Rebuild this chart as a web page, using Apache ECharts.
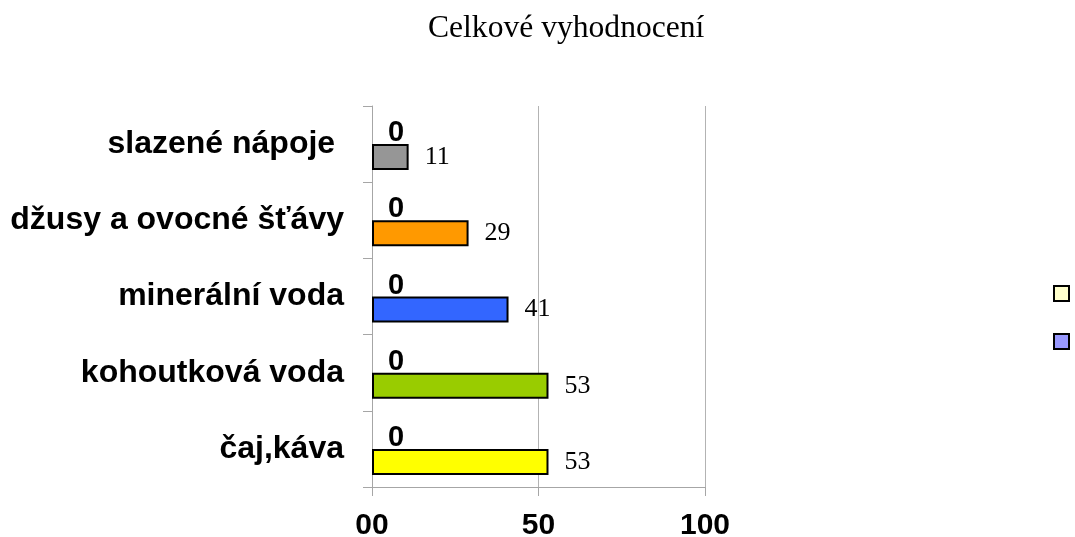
<!DOCTYPE html>
<html>
<head>
    <meta charset="utf8">
    <title>Celkové vyhodnocení</title>
    <script src="https://cdn.jsdelivr.net/npm/echarts@6/dist/echarts.min.js"></script>
</head>
<body style="margin:0">
    <div id="main" style="width: 1075px;height:537px;"></div>
    <script type="text/javascript">
    // data
    var categories = ['čaj,káva', 'kohoutková voda', 'minerální voda', 'džusy a ovocné šťávy', 'slazené nápoje '];
    var values = [53, 53, 41, 29, 11];
    var zeros = [0, 0, 0, 0, 0];
    var barColors = ['#ffff00', '#99cc00', '#3366ff', '#ff9900', '#969696'];
    var tickLabels = {0: '00', 50: '50', 100: '100'};

    var myChart = echarts.init(document.getElementById('main'));

    var sans = 'Liberation Sans, Arial, sans-serif';
    var serif = 'Liberation Serif, Times New Roman, serif';

    var option = {
        animation: false,
        backgroundColor: '#fff',
        title: {
            text: 'Celkové vyhodnocení',
            left: 423,
            top: 8,
            textStyle: { fontFamily: serif, fontWeight: 'normal', fontSize: 31.6, color: '#000' }
        },
        legend: {
            orient: 'vertical',
            left: 1048,
            top: 280,
            itemWidth: 15,
            itemHeight: 15,
            itemGap: 31,
            icon: 'rect',
            itemStyle: { borderColor: '#000', borderWidth: 2 },
            data: ['Řada 2', 'Řada 1'],
            formatter: function () { return ''; }
        },
        grid: { left: 372, right: 370, top: 106, bottom: 50, outerBoundsMode: 'none' },
        xAxis: {
            type: 'value',
            min: 0,
            max: 100,
            interval: 50,
            axisLine: { show: true, lineStyle: { color: '#a6a6a6', width: 1 } },
            axisTick: { show: true, length: 9, lineStyle: { color: '#a6a6a6' } },
            splitLine: { show: true, lineStyle: { color: '#b3b3b3' } },
            axisLabel: {
                margin: 24,
                fontFamily: sans, fontWeight: 'bold', fontSize: 30, color: '#000',
                formatter: function (v) { return tickLabels[v]; }
            }
        },
        yAxis: {
            type: 'category',
            data: categories,
            axisLine: { show: true, lineStyle: { color: '#a6a6a6' } },
            axisTick: { show: true, length: 9, lineStyle: { color: '#a6a6a6' } },
            axisLabel: { margin: 28, fontFamily: sans, fontWeight: 'bold', fontSize: 32, color: '#000' }
        },
        series: [
            {
                name: 'Řada 1',
                type: 'bar',
                data: zeros,
                barWidth: 26,
                barGap: 0,
                itemStyle: { color: '#9999ff', borderWidth: 0 },
                label: {
                    show: true, position: 'right', distance: 16, offset: [0, 2],
                    fontFamily: sans, fontWeight: 'bold', fontSize: 29, color: '#000'
                }
            },
            {
                name: 'Řada 2',
                type: 'bar',
                barWidth: 26,
                barGap: 0,
                data: values.map(function (v, i) {
                    return { value: v, itemStyle: { color: barColors[i] } };
                }),
                itemStyle: { color: '#ffffcc', borderColor: '#000', borderWidth: 2 },
                label: {
                    show: true, position: 'right', distance: 16,
                    fontFamily: serif, fontSize: 26, color: '#000'
                }
            }
        ]
    };
    myChart.setOption(option);
    </script>
</body>
</html>
